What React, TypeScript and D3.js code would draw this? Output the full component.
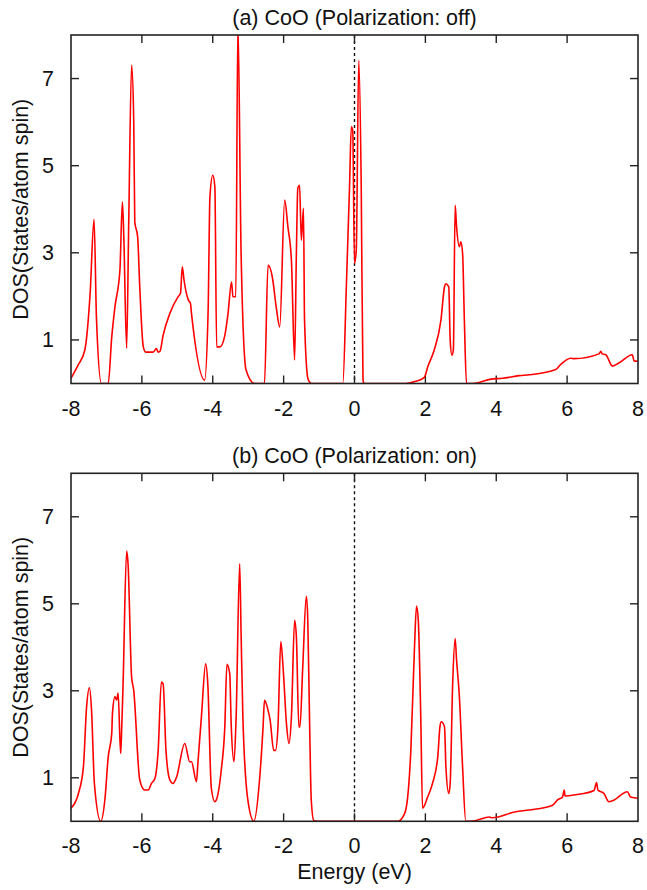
import React from 'react';
import * as d3 from 'd3';

// ---------- data ----------
const xTickValues = [-8, -6, -4, -2, 0, 2, 4, 6, 8];
const yTickValues = [1, 3, 5, 7];
const panelTitles = ['(a) CoO (Polarization: off)', '(b) CoO (Polarization: on)'];
const yAxisLabel = 'DOS(States/atom spin)';
const xAxisLabel = 'Energy (eV)';

const energyA = [
  -8.0, -7.8, -7.61, -7.46, -7.35, -7.28, -7.14, -6.95, -6.85, -6.76, -6.62, -6.55, -6.51, -6.43, -6.37, -6.29, -6.23,
  -6.2, -6.12, -6.06, -5.96, -5.89, -5.68, -5.59, -5.54, -5.49, -5.4, -5.21, -4.98, -4.91, -4.86, -4.81, -4.69,
  -4.63, -4.6, -4.23, -4.13, -4.08, -4.0, -3.94, -3.89, -3.8, -3.66, -3.57, -3.47, -3.43, -3.35, -3.29, -3.2,
  -3.06, -2.82, -2.54, -2.44, -2.32, -2.21, -2.11, -1.97, -1.88, -1.78, -1.69, -1.64, -1.6, -1.55, -1.5, -1.44,
  -1.41, -1.31, -1.22, -0.33, -0.23, -0.14, -0.09, -0.05, 0.0, 0.05, 0.12, 0.19, 0.24, 0.27, 1.45, 1.73,
  1.97, 2.07, 2.25, 2.44, 2.54, 2.58, 2.66, 2.7, 2.75, 2.79, 2.84, 2.88, 2.96, 3.0, 3.05, 3.1,
  3.16, 3.33, 3.85, 4.18, 4.65, 4.93, 5.68, 5.82, 6.1, 6.2, 6.9, 6.95, 6.99, 7.09, 7.28, 7.46,
  7.84, 7.89, 8.0,
];
const dosA = [
  0.12, 0.42, 0.77, 2.07, 3.77, 1.46, 0.0, 0.0, 1.07, 1.76, 2.6, 4.17, 3.37, 0.81, 3.75, 7.31, 6.04,
  3.71, 3.37, 2.22, 0.84, 0.72, 0.72, 0.8, 0.72, 0.74, 1.11, 1.61, 1.99, 2.07, 2.68, 2.37, 1.92,
  1.84, 1.61, 0.08, 1.69, 4.28, 4.78, 4.51, 0.84, 0.84, 1.1, 1.6, 2.33, 1.99, 1.99, 8.3, 2.99,
  0.31, 0.0, 0.0, 2.72, 2.45, 1.76, 1.3, 4.21, 3.6, 2.83, 0.54, 2.99, 4.48, 4.55, 3.29, 4.02,
  1.46, 0.1, 0.0, 0.0, 2.22, 4.51, 5.89, 5.81, 2.76, 3.06, 7.42, 4.51, 0.08, 0.0, 0.0, 0.05,
  0.14, 0.39, 0.77, 1.46, 2.22, 2.29, 2.22, 1.0, 0.65, 0.77, 4.09, 3.6, 3.14, 3.25, 2.99, 1.46,
  0.0, 0.0, 0.1, 0.12, 0.18, 0.2, 0.32, 0.44, 0.58, 0.57, 0.68, 0.74, 0.68, 0.66, 0.4, 0.47,
  0.66, 0.52, 0.51,
];

const energyB = [
  -8.0, -7.79, -7.65, -7.56, -7.48, -7.42, -7.34, -7.16, -7.04, -6.95, -6.85, -6.83, -6.76, -6.71, -6.67, -6.6,
  -6.58, -6.53, -6.43, -6.39, -6.29, -6.23, -6.06, -5.92, -5.82, -5.73, -5.63, -5.54, -5.45, -5.4, -5.32, -5.21,
  -5.12, -5.02, -4.79, -4.65, -4.6, -4.46, -4.42, -4.32, -4.2, -4.14, -4.04, -3.94, -3.9, -3.76, -3.66, -3.6,
  -3.52, -3.48, -3.4, -3.34, -3.24, -3.2, -3.15, -3.01, -2.84, -2.68, -2.58, -2.54, -2.45, -2.38, -2.28, -2.23,
  -2.16, -2.08, -2.01, -1.92, -1.85, -1.78, -1.69, -1.64, -1.57, -1.54, -1.46, -1.36, -1.32, -1.27, -1.22, -1.15,
  -1.06, 1.22, 1.41, 1.5, 1.59, 1.69, 1.75, 1.8, 1.87, 1.92, 2.06, 2.2, 2.35, 2.41, 2.45, 2.54,
  2.58, 2.66, 2.7, 2.77, 2.84, 2.88, 2.96, 3.05, 3.14, 3.43, 3.8, 3.89, 4.55, 4.93, 5.59, 5.73,
  5.87, 5.92, 5.94, 6.24, 6.76, 6.83, 6.87, 7.04, 7.18, 7.28, 7.7, 7.79, 8.0,
];
const dosB = [
  0.3, 0.64, 1.25, 2.63, 3.07, 2.55, 0.87, 0.0, 0.53, 1.48, 2.02, 2.48, 2.86, 2.79, 2.95, 1.56,
  1.87, 3.17, 6.21, 5.92, 3.32, 3.01, 0.95, 0.72, 0.72, 0.87, 0.99, 1.63, 3.2, 3.16, 1.63, 0.95,
  0.87, 1.02, 1.79, 1.37, 1.37, 0.91, 1.33, 2.4, 3.62, 3.16, 0.76, 0.45, 0.49, 1.18, 2.17, 3.61,
  3.39, 2.24, 1.37, 2.4, 5.92, 4.31, 2.4, 0.49, 0.0, 0.95, 2.17, 2.78, 2.59, 2.32, 1.63, 1.63,
  2.17, 4.13, 3.47, 2.24, 1.79, 2.4, 4.62, 4.24, 2.17, 2.17, 3.55, 5.17, 4.69, 2.4, 0.49, 0.02,
  0.0, 0.0, 0.17, 0.55, 1.63, 3.93, 4.95, 4.62, 2.4, 0.3, 0.55, 0.87, 1.48, 2.17, 2.29, 2.17,
  1.25, 0.64, 0.87, 3.16, 4.2, 3.71, 2.86, 1.25, 0.0, 0.02, 0.1, 0.08, 0.22, 0.26, 0.37, 0.49,
  0.56, 0.72, 0.58, 0.61, 0.71, 0.89, 0.72, 0.64, 0.45, 0.47, 0.68, 0.56, 0.53,
];

// ---------- layout ----------
const W = 647;
const H = 890;
const plotLeft = 71;
const plotRight = 638;
const panels = [
  { top: 35, bottom: 383.5, energy: energyA, dos: dosA, title: panelTitles[0] },
  { top: 473.3, bottom: 821.3, energy: energyB, dos: dosB, title: panelTitles[1] },
];
const FONT = '"Liberation Sans", Arial, Helvetica, sans-serif';
const FS = 21.5;
const TICK = 8;

function Panel({ p, idx }: { p: typeof panels[0]; idx: number }) {
  const x = d3.scaleLinear().domain([-8, 8]).range([plotLeft, plotRight]);
  const y = d3.scaleLinear().domain([0, 8]).range([p.bottom, p.top]);
  const pts: [number, number][] = p.energy.map((e, i) => [e, p.dos[i]]);
  const line = d3
    .line<[number, number]>()
    .x((d) => x(d[0]))
    .y((d) => y(d[1]))
    .curve(d3.curveMonotoneX);
  const clipId = `clip${idx}`;
  const midY = (p.top + p.bottom) / 2;
  return (
    <g>
      <defs>
        <clipPath id={clipId}>
          <rect x={plotLeft} y={p.top} width={plotRight - plotLeft} height={p.bottom - p.top} />
        </clipPath>
      </defs>
      <text x={(plotLeft + plotRight) / 2} y={p.top - 17} textAnchor="middle" dominantBaseline="central"
        fontFamily={FONT} fontSize={FS} fill="#111">{p.title}</text>
      {/* zero line */}
      <line x1={x(0)} x2={x(0)} y1={p.top} y2={p.bottom} stroke="#111" strokeWidth={1.4} strokeDasharray="3,3" />
      {/* ticks */}
      {xTickValues.slice(1, -1).map((t) => (
        <g key={'xt' + t}>
          <line x1={x(t)} x2={x(t)} y1={p.bottom} y2={p.bottom - TICK} stroke="#222" strokeWidth={1.4} />
          <line x1={x(t)} x2={x(t)} y1={p.top} y2={p.top + TICK} stroke="#222" strokeWidth={1.4} />
        </g>
      ))}
      {yTickValues.map((t) => (
        <g key={'yt' + t}>
          <line x1={plotLeft} x2={plotLeft + TICK} y1={y(t)} y2={y(t)} stroke="#222" strokeWidth={1.4} />
          <line x1={plotRight} x2={plotRight - TICK} y1={y(t)} y2={y(t)} stroke="#222" strokeWidth={1.4} />
          <text x={54} y={y(t)} textAnchor="end" dominantBaseline="central" fontFamily={FONT} fontSize={FS} fill="#111">{t}</text>
        </g>
      ))}
      {xTickValues.map((t) => (
        <text key={'xl' + t} x={x(t)} y={p.bottom + 25} textAnchor="middle" dominantBaseline="central"
          fontFamily={FONT} fontSize={FS} fill="#111">{t}</text>
      ))}
      <text transform={`translate(21,${midY}) rotate(-90)`} textAnchor="middle" dominantBaseline="central"
        fontFamily={FONT} fontSize={FS} fill="#111">{yAxisLabel}</text>
      <path d={line(pts) || ''} fill="none" stroke="#ff0000" strokeWidth={1.6} strokeLinejoin="round" clipPath={`url(#${clipId})`} />
      <rect x={plotLeft} y={p.top} width={plotRight - plotLeft} height={p.bottom - p.top} fill="none" stroke="#222" strokeWidth={1.6} />
    </g>
  );
}

export default function App() {
  return (
    <svg width={W} height={H} style={{ position: 'absolute', left: 0, top: 0, background: '#fff' }}>
      <rect width={W} height={H} fill="#fff" />
      {panels.map((p, i) => (
        <Panel key={i} p={p} idx={i} />
      ))}
      <text x={(plotLeft + plotRight) / 2} y={872} textAnchor="middle" dominantBaseline="central"
        fontFamily={FONT} fontSize={FS} fill="#111">{xAxisLabel}</text>
    </svg>
  );
}
